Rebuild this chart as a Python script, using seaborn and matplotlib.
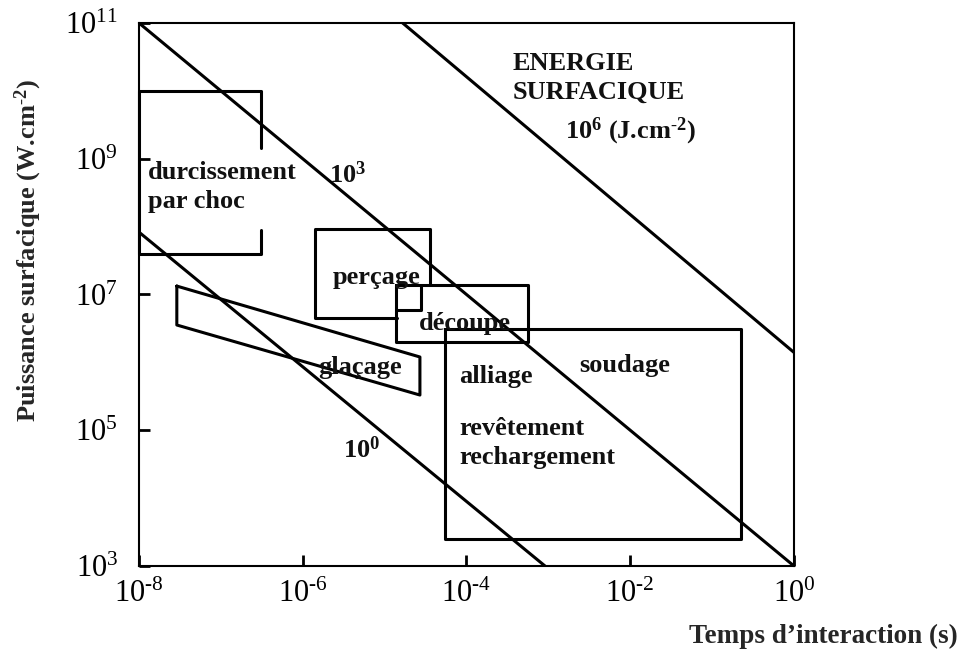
import numpy as np
import pandas as pd
import matplotlib
matplotlib.use("Agg")
import matplotlib.pyplot as plt
import seaborn as sns

# iso-energy lines (J.cm-2): end points
energy_labels = ["10^0", "10^3", "10^6"]
line_t0 = [1e-8, 1e-8, 1.66e-5]
line_p0 = [8.3e7, 1e11, 1e11]
line_t1 = [9.1e-4, 1.0, 1.0]
line_p1 = [1e3, 1e3, 1.4e6]

# process domains (time in s, power density in W.cm-2)
durc_t = [3.1e-7, 3.1e-7, 1e-8, 1e-8, 3.1e-7, 3.1e-7]
durc_p = [1.45e9, 1e10, 1e10, 4e7, 4e7, 8.9e7]

perc_t = [1.4e-5, 1.4e-6, 1.4e-6, 3.6e-5, 3.6e-5]
perc_p = [4.5e6, 4.5e6, 9.2e7, 9.2e7, 1.4e7]
perc_in_t = [1.4e-5, 2.8e-5, 2.8e-5]
perc_in_p = [5.9e6, 5.9e6, 1.4e7]

decoupe_t = [1.38e-5, 5.6e-4, 5.6e-4, 1.38e-5, 1.38e-5]
decoupe_p = [1.4e7, 1.4e7, 2e6, 2e6, 1.4e7]

soud_t = [5.5e-5, 0.225, 0.225, 5.5e-5, 5.5e-5]
soud_p = [3.1e6, 3.1e6, 2.5e3, 2.5e3, 3.1e6]

glac_t = [2.9e-8, 2.7e-5, 2.7e-5, 2.9e-8, 2.9e-8]
glac_p = [1.33e7, 1.2e6, 3.3e5, 3.55e6, 1.33e7]

# labels and where they sit
labels = ["durcissement\npar choc", "perçage", "découpe", "glaçage", "alliage",
          "soudage", "revêtement\nrechargement", "ENERGIE\nSURFACIQUE"]
label_t = [1.3e-8, 2.3e-6, 2.6e-5, 1.55e-6, 8.1e-5, 2.4e-3, 8.1e-5, 3.7e-4]
label_p = [3.8e8, 1.75e7, 3.8e6, 8.3e5, 6.2e5, 9.1e5, 6.5e4, 1.55e10]

x_ticks = [1e-8, 1e-6, 1e-4, 1e-2, 1]
x_ticklabels = [r"10$^{\text{-}8}$", r"10$^{\text{-}6}$", r"10$^{\text{-}4}$",
                r"10$^{\text{-}2}$", r"10$^{0}$"]
y_ticks = [1e3, 1e5, 1e7, 1e9, 1e11]
y_ticklabels = [r"10$^{3}$", r"10$^{5}$", r"10$^{7}$", r"10$^{9}$", r"10$^{11}$"]

sns.set_theme(style="ticks")
plt.rcParams["font.family"] = ["Liberation Serif", "DejaVu Serif"]
plt.rcParams["mathtext.fontset"] = "custom"
plt.rcParams["mathtext.rm"] = "Liberation Serif"
plt.rcParams["mathtext.bf"] = "Liberation Serif:bold"
plt.rcParams["mathtext.it"] = "Liberation Serif:italic"
plt.rcParams["axes.unicode_minus"] = False

fig = plt.figure(figsize=(9.63, 6.49), dpi=100)
ax = fig.add_axes([0.1443, 0.1279, 0.6802, 0.8367])
ax.set_xscale("log")
ax.set_yscale("log")
ax.set_xlim(1e-8, 1)
ax.set_ylim(1e3, 1e11)

lw = 2.2
for i in range(len(energy_labels)):
    sns.lineplot(x=[line_t0[i], line_t1[i]], y=[line_p0[i], line_p1[i]],
                 color="black", lw=lw, ax=ax, estimator=None, sort=False)

shapes = [(durc_t, durc_p), (perc_t, perc_p), (perc_in_t, perc_in_p),
          (decoupe_t, decoupe_p), (soud_t, soud_p), (glac_t, glac_p)]
for ts, ps in shapes:
    sns.lineplot(x=ts, y=ps, color="black", lw=lw, ax=ax,
                 estimator=None, sort=False, clip_on=False)

fs = 19
for txt, t, p in zip(labels, label_t, label_p):
    ax.text(t, p, txt, fontsize=fs, fontweight="bold", ha="left", va="center",
            linespacing=1.35, color="#111111")

ax.text(1.6e-3, 2.5e9, r"$\mathdefault{10^{6}}$ (J.cm$\mathdefault{^{\text{-}2}}$)",
        fontsize=fs, fontweight="bold", ha="left", va="center", color="#111111")
ax.text(3.5e-6, 5.8e8, r"$\mathdefault{10^{3}}$", fontsize=fs,
        fontweight="bold", ha="center", va="center", color="#111111")
ax.text(5.2e-6, 5.1e4, r"$\mathdefault{10^{0}}$", fontsize=fs,
        fontweight="bold", ha="center", va="center", color="#111111")

ax.set_xticks(x_ticks)
ax.set_xticklabels(x_ticklabels)
ax.set_yticks(y_ticks)
ax.set_yticklabels(y_ticklabels)
ax.minorticks_off()
ax.tick_params(direction="in", length=8, width=2, labelsize=22,
               colors="black")
ax.tick_params(axis="x", pad=10)
ax.tick_params(axis="y", pad=15)
for s in ax.spines.values():
    s.set_linewidth(1.5)
    s.set_color("black")

fig.text(958 / 963, 1 - 636 / 649, "Temps d\u2019interaction (s)", fontsize=19.5,
         fontweight="bold", ha="right", va="center")
fig.text(28 / 963, 1 - 250 / 649,
         r"Puissance surfacique (W.cm$\mathdefault{^{\text{-}2}}$)",
         fontsize=19, fontweight="bold", rotation=90, ha="center", va="center")

if ax.get_legend():
    ax.get_legend().remove()
fig.savefig("out.png", dpi=100)
